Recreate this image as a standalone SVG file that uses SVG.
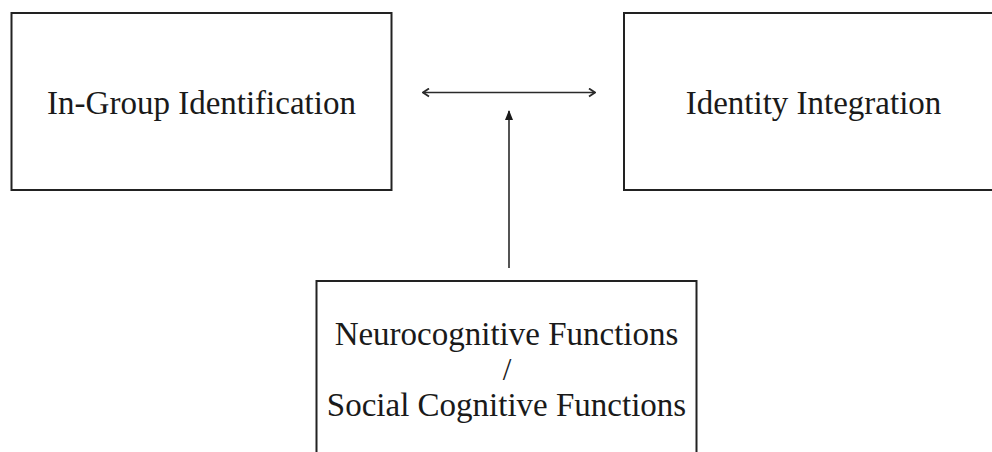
<svg xmlns="http://www.w3.org/2000/svg" width="992" height="452" viewBox="0 0 992 452">
<style>
.box{fill:#fff;stroke:#222;stroke-width:2}
.lbl{font-family:"Liberation Serif","Times New Roman",serif;font-size:33px;fill:#1a1a1a;text-anchor:middle}
.conn{stroke:#2a2a2a;stroke-width:1.6;fill:none}
</style>
<defs>
<marker id="open" viewBox="0 0 10 10" refX="9" refY="5" markerWidth="10" markerHeight="10" markerUnits="userSpaceOnUse" orient="auto-start-reverse">
<path d="M3,1 L9,5 L3,9" fill="none" stroke="#2a2a2a" stroke-width="1.8"/>
</marker>
<marker id="tri" viewBox="0 0 10 10" refX="9" refY="5" markerWidth="10" markerHeight="10" markerUnits="userSpaceOnUse" orient="auto">
<path d="M0,1 L10,5 L0,9 Z" fill="#1a1a1a"/>
</marker>
</defs>
<rect width="992" height="452" fill="#fff"/>
<g id="in-group">
<rect class="box" x="11.5" y="13" width="380" height="177"/>
<text class="lbl" x="201.5" y="114">In-Group Identification</text>
</g>
<g id="identity-integration">
<rect class="box" x="624" y="13" width="380" height="177"/>
<text class="lbl" x="813.5" y="114">Identity Integration</text>
</g>
<g id="neurocognitive">
<rect class="box" x="316.5" y="281" width="380" height="180"/>
<text class="lbl" x="506.5" y="345">Neurocognitive Functions</text>
<text class="lbl" x="507" y="380" style="font-size:31px">/</text>
<text class="lbl" x="506.5" y="416">Social Cognitive Functions</text>
</g>
<g id="connectors">
<line class="conn" x1="423" y1="92.5" x2="595" y2="92.5" marker-start="url(#open)" marker-end="url(#open)"/>
<line class="conn" x1="509" y1="268" x2="509" y2="111" marker-end="url(#tri)"/>
</g>
</svg>
